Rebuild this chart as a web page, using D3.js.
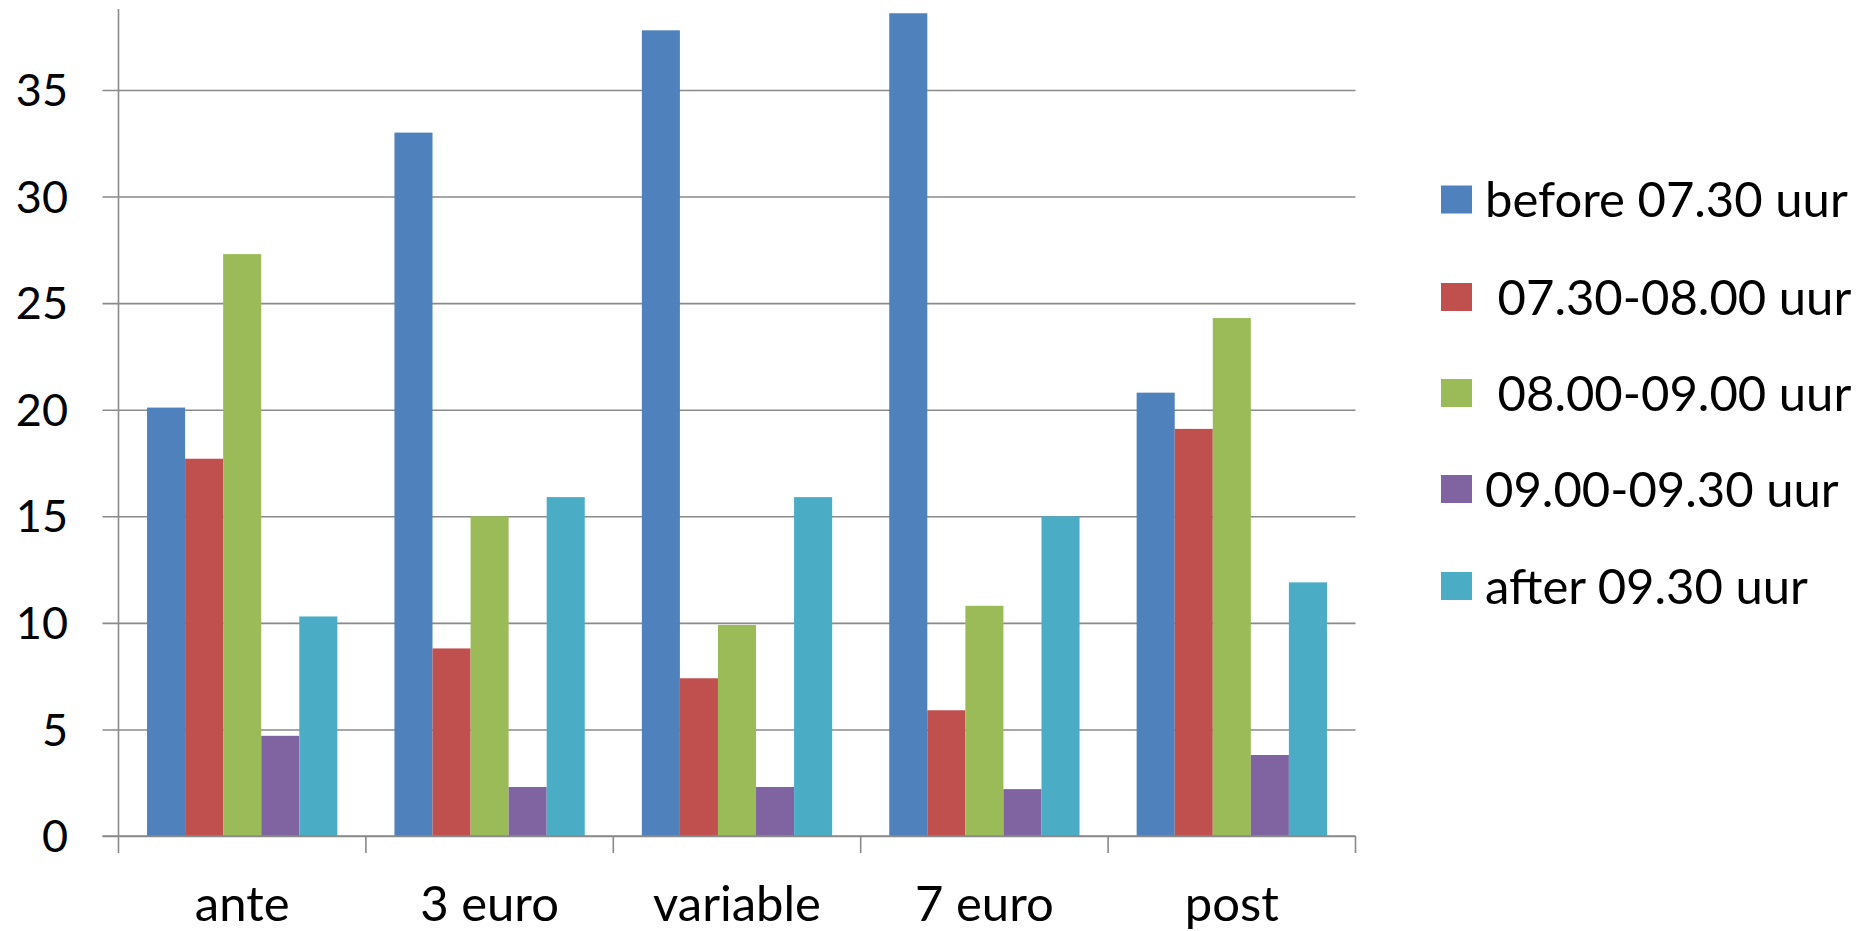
<!DOCTYPE html>
<html>
<head>
<meta charset="utf-8">
<script src="https://cdn.jsdelivr.net/npm/d3@7"></script>
<style>
  html, body { margin: 0; padding: 0; background: #fff; }
  svg { display: block; }
  text { font-family: Lato, "Open Sans", sans-serif; fill: #000; }
</style>
</head>
<body>
<svg id="chart" width="1862" height="931"></svg>
<script>
// Share of trips per departure-time slot, by pricing scheme
const categories = ["ante", "3 euro", "variable", "7 euro", "post"];
const seriesNames = ["before 07.30 uur", " 07.30-08.00 uur", " 08.00-09.00 uur", "09.00-09.30 uur", "after 09.30 uur"];
const seriesColors = ["#4F81BD", "#C0504D", "#9BBB59", "#8064A2", "#4BACC6"];
const before0730 = [20.1, 33.0, 37.8, 38.6, 20.8];
const slot0730_0800 = [17.7, 8.8, 7.4, 5.9, 19.1];
const slot0800_0900 = [27.3, 15.0, 9.9, 10.8, 24.3];
const slot0900_0930 = [4.7, 2.3, 2.3, 2.2, 3.8];
const after0930 = [10.3, 15.9, 15.9, 15.0, 11.9];
const yTicks = [0, 5, 10, 15, 20, 25, 30, 35];
const yAxisMax = 38.8;

const seriesValues = [before0730, slot0730_0800, slot0800_0900, slot0900_0930, after0930];

const svg = d3.select("#chart");
const plot = { left: 118.5, right: 1355.5, top: 9, bottom: 836 };
const gridColor = "#8a8a8a";

const y = d3.scaleLinear().domain([0, yAxisMax]).range([plot.bottom, plot.top]);
const x0 = d3.scaleBand().domain(categories).range([plot.left, plot.right]).padding(0);
const x1 = d3.scaleBand().domain(d3.range(seriesNames.length))
  .range([0, x0.bandwidth()]).paddingInner(0).paddingOuter(0.75);

// horizontal gridlines with left tick marks
const yAxis = d3.axisLeft(y).tickValues(yTicks)
  .tickSize(-(plot.right - plot.left)).tickSizeOuter(0).tickPadding(0).tickFormat("");
const gy = svg.append("g").attr("transform", `translate(${plot.left},0)`).call(yAxis);
gy.select(".domain").remove();
gy.selectAll(".tick line").attr("stroke", gridColor).attr("stroke-width", 1.6)
  .attr("x1", -16);

// tick labels
svg.append("g").selectAll("text").data(yTicks).join("text")
  .attr("x", 68).attr("y", d => y(d))
  .attr("dy", "0.36em").attr("text-anchor", "end")
  .attr("font-size", 45).text(d => d);

// bars
const groups = svg.append("g").selectAll("g").data(categories).join("g")
  .attr("transform", d => `translate(${x0(d)},0)`);
groups.selectAll("rect")
  .data((c, ci) => seriesValues.map((vals, si) => ({ si, v: vals[ci] })))
  .join("rect")
  .attr("x", d => x1(d.si))
  .attr("width", x1.bandwidth())
  .attr("y", d => y(d.v))
  .attr("height", d => y(0) - y(d.v))
  .attr("fill", d => seriesColors[d.si]);

// vertical axis line
svg.append("line")
  .attr("x1", plot.left).attr("x2", plot.left)
  .attr("y1", plot.top).attr("y2", plot.bottom)
  .attr("stroke", gridColor).attr("stroke-width", 1.6);

// category axis with boundary ticks
const boundaries = categories.map(c => x0(c)).concat([plot.right]);
svg.append("line")
  .attr("x1", plot.left - 16).attr("x2", plot.right)
  .attr("y1", plot.bottom).attr("y2", plot.bottom)
  .attr("stroke", gridColor).attr("stroke-width", 1.6);
svg.append("g").selectAll("line").data(boundaries).join("line")
  .attr("x1", d => d).attr("x2", d => d)
  .attr("y1", plot.bottom).attr("y2", plot.bottom + 17)
  .attr("stroke", gridColor).attr("stroke-width", 1.6);

svg.append("g").selectAll("text").data(categories).join("text")
  .attr("x", d => x0(d) + x0.bandwidth() / 2)
  .attr("y", 921)
  .attr("text-anchor", "middle")
  .attr("font-size", 49).text(d => d);

// legend
const legendRows = [199.5, 297, 393, 489, 586];
const legend = svg.append("g").selectAll("g").data(seriesNames).join("g")
  .attr("transform", (d, i) => `translate(1441,${legendRows[i]})`);
legend.append("rect")
  .attr("x", 0).attr("y", -14).attr("width", 31).attr("height", 28)
  .attr("fill", (d, i) => seriesColors[i]);
legend.append("text")
  .attr("x", 44).attr("y", 0).attr("dy", "0.36em")
  .attr("font-size", 49)
  .style("white-space", "pre")
  .text(d => d);
</script>
</body>
</html>
